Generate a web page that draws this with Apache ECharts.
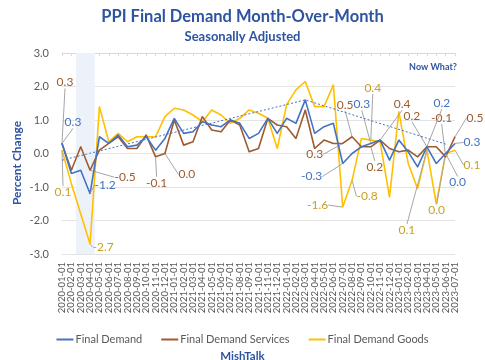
<!DOCTYPE html>
<html>
<head>
<meta charset="utf-8">
<script src="https://cdn.jsdelivr.net/npm/echarts@6/dist/echarts.min.js"></script>
<style>html,body{margin:0;padding:0;background:#fff}#c{width:485px;height:360px}</style>
</head>
<body>
<div id="c"></div>
<script>
const months = ['2020-01-01','2020-02-01','2020-03-01','2020-04-01','2020-05-01','2020-06-01','2020-07-01','2020-08-01','2020-09-01','2020-10-01','2020-11-01','2020-12-01',
'2021-01-01','2021-02-01','2021-03-01','2021-04-01','2021-05-01','2021-06-01','2021-07-01','2021-08-01','2021-09-01','2021-10-01','2021-11-01','2021-12-01',
'2022-01-01','2022-02-01','2022-03-01','2022-04-01','2022-05-01','2022-06-01','2022-07-01','2022-08-01','2022-09-01','2022-10-01','2022-11-01','2022-12-01',
'2023-01-01','2023-02-01','2023-03-01','2023-04-01','2023-05-01','2023-06-01','2023-07-01'];

const finalDemand = [0.3,-0.6,-0.5,-1.2,0.5,0.3,0.55,0.2,0.25,0.5,0.1,0.45,
1.05,0.6,0.65,0.95,0.85,0.8,1.0,0.9,0.45,0.6,1.05,0.6,
1.05,0.9,1.6,0.6,0.8,0.9,-0.3,0.0,0.2,0.3,0.4,-0.2,
0.4,0.05,-0.4,0.2,-0.3,0.0,0.3];

const services = [0.3,-0.5,0.2,-0.5,0.1,0.3,0.5,0.15,0.15,0.55,-0.1,0.0,
1.0,0.25,0.35,1.1,0.7,0.65,1.0,0.85,0.05,0.15,1.05,0.85,
0.8,0.45,1.3,0.15,0.4,0.3,0.3,0.5,0.2,0.2,0.4,0.15,
0.05,0.1,-0.1,0.2,0.2,-0.1,0.5];

const goods = [0.1,-0.9,-1.8,-2.7,1.4,0.35,0.6,0.35,0.5,0.5,0.5,1.1,
1.35,1.3,1.15,0.95,1.3,1.15,0.9,1.05,1.3,1.2,1.05,0.15,
1.45,1.9,2.15,1.4,1.4,2.05,-1.6,-0.8,0.45,0.4,0.35,-1.3,
1.25,-0.3,-1.05,0.1,-1.5,0.0,0.1];

// hand-drawn trend line anchors (month, value)
const trendMonths = ['2020-01-01','2022-03-01','2023-06-01'];
const trendValues = [-0.2, 1.6, 0.28];

// shaded period
const shadeStart = '2020-03-01';
const shadeEnd = '2020-04-01';

const yTicks = [-3,-2,-1,0,1,2,3];

// labelled points: series key, month, label offset (style)
const labelSpec = [
  {s:'fd', m:'2020-01-01', dx:11, dy:-21},
  {s:'sv', m:'2020-01-01', dx:3, dy:-61},
  {s:'gd', m:'2020-01-01', dx:1, dy:42},
  {s:'sv', m:'2020-04-01', dx:35, dy:7},
  {s:'fd', m:'2020-04-01', dx:15, dy:-9},
  {s:'gd', m:'2020-04-01', dx:13, dy:3},
  {s:'sv', m:'2020-11-01', dx:1, dy:26},
  {s:'sv', m:'2020-12-01', dx:22, dy:21},
  {s:'sv', m:'2022-07-01', dx:-28, dy:11},
  {s:'fd', m:'2022-07-01', dx:-31, dy:13},
  {s:'gd', m:'2022-07-01', dx:-25, dy:-2},
  {s:'gd', m:'2022-08-01', dx:15, dy:16},
  {s:'sv', m:'2022-08-01', dx:-7, dy:-32},
  {s:'fd', m:'2022-10-01', dx:-9, dy:-39},
  {s:'sv', m:'2022-10-01', dx:4, dy:20},
  {s:'gd', m:'2022-10-01', dx:2, dy:-52},
  {s:'sv', m:'2022-11-01', dx:22, dy:-36},
  {s:'sv', m:'2023-04-01', dx:-15, dy:-31},
  {s:'fd', m:'2023-04-01', dx:15, dy:-44},
  {s:'gd', m:'2023-04-01', dx:-20, dy:80},
  {s:'sv', m:'2023-06-01', dx:-4, dy:-39},
  {s:'fd', m:'2023-06-01', dx:12, dy:29},
  {s:'gd', m:'2023-06-01', dx:-9, dy:57},
  {s:'sv', m:'2023-07-01', dx:20, dy:-19},
  {s:'fd', m:'2023-07-01', dx:17, dy:-1},
  {s:'gd', m:'2023-07-01', dx:17, dy:15}
];

const FONT = 'Lato, "Open Sans", sans-serif';
const C_FD = '#4472C4', C_SV = '#9E5B2E', C_GD = '#FFC000';
const L_FD = '#4472C4', L_SV = '#9E5B2E', L_GD = '#C9A227';
const TITLE_C = '#2E54A0';

const seriesDefs = [
  {key:'fd', name:'Final Demand', values:finalDemand, color:C_FD, lc:L_FD},
  {key:'sv', name:'Final Demand Services', values:services, color:C_SV, lc:L_SV},
  {key:'gd', name:'Final Demand Goods', values:goods, color:C_GD, lc:L_GD}
];

const offsetsBySeries = {};
seriesDefs.forEach(d => offsetsBySeries[d.key] = {});
labelSpec.forEach(l => { offsetsBySeries[l.s][months.indexOf(l.m)] = l; });

const lineSeries = seriesDefs.map((d, si) => ({
  name: d.name,
  type: 'line',
  xAxisIndex: 0,
  yAxisIndex: 0,
  z: 3 + (2 - si),
  symbol: 'circle',
  symbolSize: 1,
  showSymbol: true,
  showAllSymbol: true,
  itemStyle: {color: d.color},
  lineStyle: {color: d.color, width: 1.6},
  data: d.values.map((v, i) => {
    if (offsetsBySeries[d.key][i]) {
      return {value: v, label: {show: true}, labelLine: {show: true}};
    }
    return v;
  }),
  label: {
    show: false,
    position: 'inside',
    color: d.lc,
    fontFamily: FONT,
    fontSize: 12,
    formatter: p => Number(p.value).toFixed(1)
  },
  labelLine: {show: false, lineStyle: {color: '#A6A6A6', width: 1}},
  labelLayout: function (p) {
    const o = offsetsBySeries[d.key][p.dataIndex];
    if (o) return {dx: o.dx, dy: o.dy};
    return {};
  },
  emphasis: {disabled: true},
  silent: true
}));

const trendData = months.map(m => {
  const k = trendMonths.indexOf(m);
  return k >= 0 ? trendValues[k] : null;
});

const sIdx = months.indexOf(shadeStart), eIdx = months.indexOf(shadeEnd);

const option = {
  animation: false,
  backgroundColor: '#fff',
  title: [
    {text: 'PPI Final Demand Month-Over-Month', left: 'center', top: 3,
     textStyle: {fontFamily: FONT, fontSize: 16.5, fontWeight: 'bold', color: TITLE_C}},
    {text: 'Seasonally Adjusted', left: 'center', top: 25,
     textStyle: {fontFamily: FONT, fontSize: 13, fontWeight: 'bold', color: TITLE_C}},
    {text: 'MishTalk', left: 'center', top: 345,
     textStyle: {fontFamily: FONT, fontSize: 11.5, fontWeight: 'bold', color: TITLE_C}}
  ],
  legend: {
    data: seriesDefs.map(d => d.name),
    top: 329,
    left: 'center',
    icon: 'rect',
    itemWidth: 17,
    itemHeight: 2,
    itemGap: 19,
    textStyle: {fontFamily: FONT, fontSize: 11, color: '#595959', padding: [0, 0, 0, -3]}
  },
  graphic: [
    {type: 'text', x: 17, y: 163, rotation: Math.PI / 2,
     style: {text: 'Percent Change', fontFamily: FONT, fontSize: 12, fontWeight: 'bold', fill: TITLE_C,
             textAlign: 'center', textVerticalAlign: 'middle'}},
    {type: 'text', x: 433, y: 67,
     style: {text: 'Now What?', fontFamily: FONT, fontSize: 9, fontWeight: 'bold', fill: TITLE_C,
             textAlign: 'center', textVerticalAlign: 'middle'}}
  ],
  grid: {left: 62, right: 30, top: 53, bottom: 106},
  xAxis: [
    {type: 'category', data: months, boundaryGap: false,
     axisLine: {show: false}, axisTick: {show: false},
     axisLabel: {rotate: 90, interval: 0, fontFamily: FONT, fontSize: 9.5, color: '#595959', margin: 8}},
    {type: 'category', data: months, boundaryGap: false, position: 'top',
     axisLine: {show: true, onZero: true, lineStyle: {color: '#D9D9D9', width: 1}},
     axisTick: {show: true, inside: true, interval: 0, length: 3, lineStyle: {color: '#D9D9D9'}},
     axisLabel: {show: false}, splitLine: {show: false}},
    {type: 'value', min: 0, max: months.length - 1, show: false}
  ],
  yAxis: {
    type: 'value', min: yTicks[0], max: yTicks[yTicks.length - 1], interval: 1,
    axisLine: {show: false}, axisTick: {show: false},
    axisLabel: {fontFamily: FONT, fontSize: 11, color: '#595959', margin: 13,
                formatter: v => v.toFixed(1)},
    splitLine: {lineStyle: {color: '#E3E3E3', width: 1}}
  },
  series: [
    {name: 'shade', type: 'line', xAxisIndex: 2, yAxisIndex: 0, z: 1,
     data: [[sIdx - 0.5, null], [eIdx + 0.5, null]], showSymbol: false,
     lineStyle: {opacity: 0}, silent: true,
     markArea: {silent: true, itemStyle: {color: '#EDF2FA'},
                data: [[{xAxis: sIdx - 0.5}, {xAxis: eIdx + 0.5}]]}},
    {name: 'trend', type: 'line', xAxisIndex: 0, yAxisIndex: 0, z: 6,
     data: trendData, connectNulls: true, showSymbol: false, silent: true,
     lineStyle: {color: C_FD, width: 1, type: [2, 2]}},
    ...lineSeries
  ]
};

const chart = echarts.init(document.getElementById('c'), null, {renderer: 'canvas'});
chart.setOption(option);
</script>
</body>
</html>
